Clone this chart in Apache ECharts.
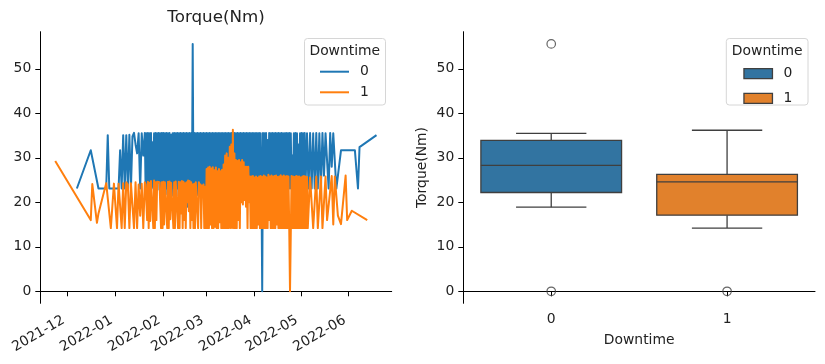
<!DOCTYPE html>
<html><head><meta charset="utf-8">
<script src="https://cdn.jsdelivr.net/npm/echarts@6/dist/echarts.min.js"></script>
<style>html,body{margin:0;padding:0;background:#fff}#c{width:825px;height:364px}</style>
</head><body><div id="c"></div>
<script>
// ---------- data ----------
const seriesNames = ['0', '1'];
// Torque readings for Downtime = 0  [time, Nm]
const torqueDowntime0 = [
['2021-12-07',23.1],['2021-12-16',31.7],['2021-12-21',23.1],['2021-12-26',23.1],['2021-12-27',35.1],['2021-12-28',23.1],
['2022-01-03',23.1],['2022-01-04',31.7],['2022-01-05',23.1],['2022-01-06',35.1],['2022-01-07',23.1],['2022-01-08',35.1],
['2022-01-09',23.1],['2022-01-10',35.2],['2022-01-11',23.1],['2022-01-12',34.8],['2022-01-13',35.6],['2022-01-14',33.0],
['2022-01-15',31.0],['2022-01-16',35.5],['2022-01-17',23.1],['2022-01-18',35.5],['2022-01-19',30.5],
['2022-01-20',35.6],['2022-01-20 12',23.1],['2022-01-21',35.5],['2022-01-21 12',22.8],['2022-01-22',35.6],['2022-01-22 12',23.1],
['2022-01-23',35.5],['2022-01-23 12',22.4],['2022-01-24',35.6],['2022-01-24 12',23.5],['2022-01-25',33.5],['2022-01-25 12',23.1],
['2022-01-26',35.5],['2022-01-26 12',22.8],['2022-01-27',35.6],['2022-01-27 12',23.1],['2022-01-28',35.5],['2022-01-28 12',24.5],
['2022-01-29',35.6],['2022-01-29 12',22.8],['2022-01-30',35.5],['2022-01-30 12',23.1],['2022-01-31',35.6],['2022-01-31 12',21.8],
['2022-02-01',35.6],['2022-02-01 12',23.1],['2022-02-02',35.5],['2022-02-02 12',21.8],['2022-02-03',35.6],['2022-02-03 12',23.1],
['2022-02-04',35.5],['2022-02-04 12',22.5],['2022-02-05',35.6],['2022-02-05 12',23.1],['2022-02-06',35.2],['2022-02-06 12',21.5],
['2022-02-07',35.5],['2022-02-07 12',23.1],['2022-02-08',35.6],['2022-02-08 12',22.7],['2022-02-09',35.5],['2022-02-09 12',21.5],
['2022-02-10',35.6],['2022-02-10 12',23.1],['2022-02-11',35.5],['2022-02-11 12',22.0],['2022-02-12',35.6],['2022-02-12 12',23.1],
['2022-02-13',35.5],['2022-02-13 12',21.2],['2022-02-14',35.6],['2022-02-14 12',20.4],['2022-02-15',35.5],['2022-02-15 12',21.0],
['2022-02-16',35.6],['2022-02-16 12',19.0],['2022-02-17',35.5],['2022-02-17 12',20.0],['2022-02-18',35.6],['2022-02-18 12',19.5],
['2022-02-19',35.5],['2022-02-19 12',21.0],['2022-02-20',55.6],['2022-02-20 12',22.0],['2022-02-21',35.6],['2022-02-21 12',21.6],
['2022-02-22',35.5],['2022-02-22 12',22.0],['2022-02-23',35.6],['2022-02-23 12',21.6],['2022-02-24',35.5],['2022-02-24 12',23.1],
['2022-02-25',35.6],['2022-02-25 12',21.6],['2022-02-26',35.5],['2022-02-26 12',22.0],['2022-02-27',35.6],['2022-02-27 12',21.6],
['2022-02-28',35.5],['2022-02-28 12',23.1],
['2022-03-01',35.6],['2022-03-01 12',21.6],['2022-03-02',35.5],['2022-03-02 12',22.0],['2022-03-03',35.6],['2022-03-03 12',21.6],
['2022-03-04',35.5],['2022-03-04 12',23.1],['2022-03-05',35.6],['2022-03-05 12',21.6],['2022-03-06',35.5],['2022-03-06 12',22.5],
['2022-03-07',35.6],['2022-03-07 12',21.6],['2022-03-08',35.5],['2022-03-08 12',23.1],['2022-03-09',35.6],['2022-03-09 12',22.0],
['2022-03-10',35.5],['2022-03-10 12',21.6],['2022-03-11',35.6],['2022-03-11 12',23.1],['2022-03-12',35.5],['2022-03-12 12',22.0],
['2022-03-13',35.6],['2022-03-13 12',21.6],['2022-03-14',35.5],['2022-03-14 12',23.1],['2022-03-15',35.6],['2022-03-15 12',22.5],
['2022-03-16',35.5],['2022-03-16 12',21.6],['2022-03-17',35.6],['2022-03-17 12',23.1],['2022-03-18',35.5],['2022-03-18 12',21.0],
['2022-03-19',35.6],['2022-03-19 12',20.7],['2022-03-20',35.5],['2022-03-20 12',21.0],['2022-03-21',35.6],['2022-03-21 12',20.9],
['2022-03-22',35.5],['2022-03-22 12',20.7],['2022-03-23',35.6],['2022-03-23 12',21.2],['2022-03-24',35.5],['2022-03-24 12',20.7],
['2022-03-25',35.6],['2022-03-25 12',20.9],['2022-03-26',35.5],['2022-03-26 12',21.0],['2022-03-27',35.6],['2022-03-27 12',20.7],
['2022-03-28',35.5],['2022-03-28 12',21.2],['2022-03-29',35.6],['2022-03-29 12',20.9],['2022-03-30',35.5],['2022-03-30 12',21.0],
['2022-03-31',35.6],['2022-03-31 12',20.7],
['2022-04-01',35.5],['2022-04-01 12',21.0],['2022-04-02',35.6],['2022-04-02 12',23.1],['2022-04-03',35.5],['2022-04-03 12',21.5],
['2022-04-04',35.6],['2022-04-04 12',23.1],['2022-04-05',35.5],['2022-04-05 12',25.0],['2022-04-06',0.0],['2022-04-06 12',35.6],
['2022-04-07',23.1],['2022-04-07 12',35.5],['2022-04-08',23.1],['2022-04-08 12',35.6],['2022-04-09',23.1],['2022-04-09 12',34.0],
['2022-04-10',23.1],['2022-04-10 12',35.6],['2022-04-11',23.1],['2022-04-11 12',35.5],['2022-04-12',23.1],['2022-04-12 12',35.6],
['2022-04-13',23.1],['2022-04-13 12',35.5],['2022-04-14',23.1],['2022-04-14 12',35.6],['2022-04-15',23.1],['2022-04-15 12',35.5],
['2022-04-16',23.1],['2022-04-16 12',35.6],['2022-04-17',23.1],['2022-04-17 12',35.5],['2022-04-18',23.1],['2022-04-18 12',35.6],
['2022-04-19',23.1],['2022-04-19 12',35.5],['2022-04-20',23.1],['2022-04-20 12',35.5],['2022-04-21',23.1],['2022-04-21 12',35.6],
['2022-04-22',23.1],['2022-04-22 12',35.5],['2022-04-23',23.1],['2022-04-23 12',35.6],['2022-04-24',23.1],['2022-04-24 12',35.5],
['2022-04-25',23.1],['2022-04-25 12',30.5],['2022-04-26',23.1],['2022-04-26 12',35.5],['2022-04-27',23.1],['2022-04-27 12',35.6],
['2022-04-28',23.1],['2022-04-28 12',35.5],['2022-04-29',23.1],['2022-04-29 12',33.0],['2022-04-30',23.1],['2022-04-30 12',35.5],
['2022-05-01',23.1],['2022-05-01 12',35.6],['2022-05-02',23.1],['2022-05-02 12',35.5],['2022-05-03',23.1],['2022-05-03 12',35.6],
['2022-05-04',23.1],
['2022-05-05',35.5],['2022-05-06',23.1],['2022-05-07',35.6],['2022-05-08',23.1],['2022-05-09',35.5],['2022-05-10',23.1],
['2022-05-11',35.6],['2022-05-12',23.1],
['2022-05-13',35.5],['2022-05-14',23.1],['2022-05-15',35.6],['2022-05-16',26.0],['2022-05-17',35.5],['2022-05-19',23.1],
['2022-05-20',35.6],['2022-05-21',28.0],['2022-05-22',35.5],['2022-05-24',23.1],['2022-05-27',31.7],['2022-06-05',31.7],
['2022-06-07',23.1],['2022-06-08',32.4],['2022-06-19',35.1]
];
// Torque readings for Downtime = 1  [time, Nm]
const torqueDowntime1 = [
['2021-11-23',29.3],['2021-12-16',16.0],['2021-12-17',24.1],['2021-12-20',15.4],['2021-12-21',17.5],['2021-12-26',24.3],
['2021-12-27',24.0],['2021-12-29',14.2],['2021-12-31',24.2],['2022-01-01',24.2],['2022-01-02',14.2],['2022-01-03',24.2],
['2022-01-05',14.2],['2022-01-06',24.3],['2022-01-07',14.2],['2022-01-08',24.5],['2022-01-09',24.0],['2022-01-10',14.2],
['2022-01-11',24.3],['2022-01-12',24.5],['2022-01-13',14.2],['2022-01-14',24.5],['2022-01-15',14.2],['2022-01-16',24.0],
['2022-01-17',17.0],['2022-01-18',24.2],['2022-01-19',14.2],
['2022-01-20',24.5],['2022-01-20 12',24.0],['2022-01-21',24.2],['2022-01-21 12',16.0],['2022-01-22',24.6],['2022-01-22 12',14.2],
['2022-01-23',24.4],['2022-01-23 12',15.8],['2022-01-24',24.8],['2022-01-24 12',24.5],['2022-01-25',24.6],['2022-01-25 12',14.2],
['2022-01-26',24.9],['2022-01-26 12',14.2],['2022-01-27',24.5],['2022-01-27 12',16.0],['2022-01-28',24.6],['2022-01-28 12',24.6],
['2022-01-29',24.8],['2022-01-29 12',24.5],['2022-01-30',24.6],['2022-01-30 12',14.2],['2022-01-31',24.5],['2022-01-31 12',14.2],
['2022-02-01',24.6],['2022-02-01 12',15.0],['2022-02-02',24.5],['2022-02-02 12',24.6],['2022-02-03',24.4],['2022-02-03 12',14.2],
['2022-02-04',24.6],['2022-02-04 12',14.2],['2022-02-05',24.7],['2022-02-05 12',16.2],['2022-02-06',24.4],['2022-02-06 12',24.5],
['2022-02-07',24.6],['2022-02-07 12',14.2],['2022-02-08',24.5],['2022-02-08 12',14.2],['2022-02-09',24.7],['2022-02-09 12',24.6],
['2022-02-10',24.4],['2022-02-10 12',14.2],['2022-02-11',24.6],['2022-02-11 12',14.2],['2022-02-12',24.5],['2022-02-12 12',17.5],
['2022-02-13',24.8],['2022-02-13 12',14.2],['2022-02-14',24.6],['2022-02-14 12',16.0],['2022-02-15',24.3],['2022-02-15 12',14.2],
['2022-02-16',24.5],['2022-02-16 12',20.0],['2022-02-17',24.9],['2022-02-17 12',18.0],['2022-02-18',24.8],['2022-02-18 12',14.2],
['2022-02-19',24.5],['2022-02-19 12',16.0],['2022-02-20',24.0],['2022-02-20 12',14.2],['2022-02-21',24.2],['2022-02-21 12',14.2],
['2022-02-22',24.5],['2022-02-22 12',24.2],['2022-02-23',24.6],['2022-02-23 12',14.2],['2022-02-24',24.5],['2022-02-24 12',23.5],
['2022-02-25',24.0],['2022-02-25 12',14.2],['2022-02-26',23.8],['2022-02-26 12',22.5],['2022-02-27',24.0],['2022-02-27 12',14.2],
['2022-02-28',23.5],['2022-02-28 12',14.2],
['2022-03-01',27.5],['2022-03-01 12',14.2],['2022-03-02',27.8],['2022-03-02 12',14.2],['2022-03-03',28.0],['2022-03-03 12',15.0],
['2022-03-04',27.6],['2022-03-04 12',14.2],['2022-03-05',27.9],['2022-03-05 12',14.2],['2022-03-06',27.2],['2022-03-06 12',14.5],
['2022-03-07',27.8],['2022-03-07 12',14.2],['2022-03-08',27.0],['2022-03-08 12',14.2],['2022-03-09',27.5],['2022-03-09 12',15.5],
['2022-03-10',27.0],['2022-03-10 12',14.2],['2022-03-11',27.3],['2022-03-11 12',14.2],['2022-03-12',28.5],['2022-03-12 12',14.2],
['2022-03-13',30.5],['2022-03-13 12',14.2],['2022-03-14',31.0],['2022-03-14 12',14.2],['2022-03-15',30.0],['2022-03-15 12',14.2],
['2022-03-16',32.5],['2022-03-16 12',14.2],['2022-03-17',33.0],['2022-03-17 12',14.2],['2022-03-18',36.3],['2022-03-18 12',14.2],
['2022-03-19',31.0],['2022-03-19 12',14.2],['2022-03-20',29.5],['2022-03-20 12',14.2],['2022-03-21',29.3],['2022-03-21 12',16.0],
['2022-03-22',29.5],['2022-03-22 12',14.2],['2022-03-23',29.0],['2022-03-23 12',20.0],['2022-03-24',29.5],['2022-03-24 12',19.5],
['2022-03-25',29.0],['2022-03-25 12',20.5],['2022-03-26',28.0],['2022-03-26 12',19.0],['2022-03-27',28.0],['2022-03-27 12',14.2],
['2022-03-28',28.0],['2022-03-28 12',20.0],['2022-03-29',25.8],['2022-03-29 12',14.2],['2022-03-30',25.8],['2022-03-30 12',14.2],
['2022-03-31',25.9],['2022-03-31 12',14.2],
['2022-04-01',25.6],['2022-04-01 12',14.2],['2022-04-02',25.8],['2022-04-02 12',14.2],['2022-04-03',25.5],['2022-04-03 12',15.0],
['2022-04-04',25.8],['2022-04-04 12',14.2],['2022-04-05',25.9],['2022-04-05 12',14.2],['2022-04-06',25.7],['2022-04-06 12',14.2],
['2022-04-07',26.0],['2022-04-07 12',14.2],['2022-04-08',25.8],['2022-04-08 12',14.2],['2022-04-09',25.6],['2022-04-09 12',14.2],
['2022-04-10',26.2],['2022-04-10 12',16.0],['2022-04-11',25.8],['2022-04-11 12',14.2],['2022-04-12',26.0],['2022-04-12 12',14.2],
['2022-04-13',25.8],['2022-04-13 12',14.2],['2022-04-14',25.9],['2022-04-14 12',14.2],['2022-04-15',26.0],['2022-04-15 12',15.0],
['2022-04-16',25.7],['2022-04-16 12',14.2],['2022-04-17',25.8],['2022-04-17 12',14.2],['2022-04-18',26.1],['2022-04-18 12',14.2],
['2022-04-19',25.8],['2022-04-19 12',14.2],['2022-04-20',26.0],['2022-04-20 12',14.2],['2022-04-21',25.8],['2022-04-21 12',14.2],
['2022-04-22',25.9],['2022-04-22 12',14.2],['2022-04-23',25.8],['2022-04-23 12',14.2],['2022-04-24',0.0],
['2022-04-25',25.9],['2022-04-25 12',14.2],['2022-04-26',25.8],['2022-04-26 12',14.2],['2022-04-27',25.7],['2022-04-27 12',14.2],
['2022-04-28',25.9],['2022-04-28 12',14.2],['2022-04-29',25.8],['2022-04-29 12',14.2],['2022-04-30',25.8],['2022-04-30 12',14.2],
['2022-05-01',25.6],['2022-05-01 12',14.2],['2022-05-02',25.8],['2022-05-02 12',14.2],['2022-05-03',25.9],['2022-05-03 12',14.2],
['2022-05-04',25.8],['2022-05-04 12',14.2],['2022-05-05',25.7],['2022-05-05 12',14.2],
['2022-05-07',25.6],['2022-05-08',25.8],['2022-05-09',14.2],['2022-05-11',25.8],['2022-05-12',14.2],['2022-05-14',25.8],
['2022-05-15',14.2],['2022-05-17',25.8],['2022-05-18',16.0],['2022-05-21',25.9],['2022-05-22',15.0],['2022-05-23',25.8],
['2022-05-25',17.0],['2022-05-27',15.1],['2022-05-30',26.0],['2022-05-31',16.0],['2022-06-03',18.1],['2022-06-13',16.0]
];
const monthTicks = ['2021-12-01','2022-01-01','2022-02-01','2022-03-01','2022-04-01','2022-05-01','2022-06-01'];
const yTicks = [0, 10, 20, 30, 40, 50];
const boxCategories = ['0', '1'];
// [low whisker, Q1, median, Q3, high whisker]
const boxStats0 = [18.9, 22.2, 28.3, 33.9, 35.5];
const boxStats1 = [14.2, 17.1, 24.6, 26.3, 36.2];
const outlierCats = [0, 0, 1];
const outlierVals = [55.6, 0.0, 0.0];

// ---------- helpers ----------
function toTs(s) {
  const parts = s.split(' ');
  const p = parts[0].split('-').map(Number);
  const h = parts.length > 1 ? Number(parts[1]) : 0;
  return new Date(p[0], p[1] - 1, p[2], h).getTime();
}
const FONT = 'DejaVu Sans';
const TXT = '#222222';
const EDGE = '#3f3f3f';
const yMin = -2.7, yMax = 58.35;
const lineColors = ['#1f77b4', '#ff7f0e'];
const boxColors = ['#3274a1', '#e1812c'];

function renderBox(params, api) {
  const cat = api.value(0);
  const vals = [api.value(1), api.value(2), api.value(3), api.value(4), api.value(5)];
  const ys = vals.map(v => api.coord([cat, v])[1]);
  const x = api.coord([cat, vals[0]])[0];
  const band = api.size([1, 0])[0];
  const bw = band * 0.8, cw = bw / 2;
  const color = boxColors[cat];
  const ls = { stroke: EDGE, lineWidth: 1.3 };
  return { type: 'group', children: [
    { type: 'line', shape: { x1: x, y1: ys[1], x2: x, y2: ys[0] }, style: ls },
    { type: 'line', shape: { x1: x, y1: ys[3], x2: x, y2: ys[4] }, style: ls },
    { type: 'line', shape: { x1: x - cw / 2, y1: ys[0], x2: x + cw / 2, y2: ys[0] }, style: ls },
    { type: 'line', shape: { x1: x - cw / 2, y1: ys[4], x2: x + cw / 2, y2: ys[4] }, style: ls },
    { type: 'rect', shape: { x: x - bw / 2, y: ys[3], width: bw, height: ys[1] - ys[3] }, style: { fill: color, stroke: EDGE, lineWidth: 1.3 } },
    { type: 'line', shape: { x1: x - bw / 2, y1: ys[2], x2: x + bw / 2, y2: ys[2] }, style: ls }
  ]};
}

const axisLineStyle = { show: true, lineStyle: { color: '#000', width: 1 } };
const tickStyle = { show: true, length: 5, lineStyle: { color: '#000', width: 1 } };
const labelStyle = { color: TXT, fontFamily: FONT, fontSize: 13.9 };
function fmtMonth(v) { const d = new Date(v); return d.getFullYear() + '-' + String(d.getMonth() + 1).padStart(2, '0'); }
const lineIcon = 'path://M0,0 H29 V2 H0 Z';

const option = {
  animation: false,
  backgroundColor: '#fff',
  textStyle: { fontFamily: FONT },
  grid: [
    { left: 40.3, top: 31.7, width: 351.4, height: 271.6, containLabel: false },
    { left: 463.3, top: 31.7, width: 351.7, height: 271.6, containLabel: false }
  ],
  xAxis: [
    { type: 'value', gridIndex: 0, min: toTs('2021-11-13 08'), max: toTs('2022-06-28 20'), scale: true,
      axisLine: axisLineStyle, splitLine: { show: false },
      axisTick: Object.assign({}, tickStyle, { customValues: monthTicks.map(toTs) }),
      axisLabel: Object.assign({}, labelStyle, { rotate: 30, margin: 13.7, padding: [0, 4.6, 0, 0], customValues: monthTicks.map(toTs), formatter: fmtMonth })
    },
    { type: 'category', gridIndex: 1, data: boxCategories, boundaryGap: true,
      axisLine: axisLineStyle, splitLine: { show: false },
      axisTick: Object.assign({}, tickStyle, { alignWithLabel: true }),
      axisLabel: Object.assign({}, labelStyle, { margin: 9 }),
      name: 'Downtime', nameLocation: 'middle', nameGap: 30,
      nameTextStyle: { color: TXT, fontFamily: FONT, fontSize: 13.9 }
    }
  ],
  yAxis: [
    { type: 'value', gridIndex: 0, min: yMin, max: yMax,
      axisLine: axisLineStyle, splitLine: { show: false },
      axisTick: Object.assign({}, tickStyle, { customValues: yTicks }),
      axisLabel: Object.assign({}, labelStyle, { margin: 9, customValues: yTicks })
    },
    { type: 'value', gridIndex: 1, min: yMin, max: yMax,
      axisLine: axisLineStyle, splitLine: { show: false },
      axisTick: Object.assign({}, tickStyle, { customValues: yTicks }),
      axisLabel: Object.assign({}, labelStyle, { margin: 9, customValues: yTicks }),
      name: 'Torque(Nm)', nameLocation: 'middle', nameGap: 34,
      nameTextStyle: { color: TXT, fontFamily: FONT, fontSize: 13.9 }
    }
  ],
  legend: [
    { orient: 'vertical', left: 320, top: 64.7, padding: 0, itemWidth: 29, itemHeight: 14, itemGap: 6.6,
      selectedMode: false, symbolKeepAspect: true,
      data: seriesNames.map((n, i) => ({ name: n, icon: lineIcon, itemStyle: { color: lineColors[i] } })),
      textStyle: { color: TXT, fontFamily: FONT, fontSize: 13.9, padding: [0, 0, 0, 6] } },
    { orient: 'vertical', left: 743.3, top: 66.7, padding: 0, itemWidth: 28.5, itemHeight: 10, itemGap: 10.6,
      selectedMode: false,
      data: seriesNames.map((n, i) => ({ name: 'box' + n, icon: 'rect', itemStyle: { color: boxColors[i], borderColor: EDGE, borderWidth: 1.3 } })),
      formatter: n => n.replace('box', ''),
      textStyle: { color: TXT, fontFamily: FONT, fontSize: 13.9, padding: [0, 0, 0, 6] } }
  ],
  graphic: [
    { type: 'text', x: 216, y: 17.5, z: 10, style: { text: 'Torque(Nm)', fill: TXT, font: '16.7px "DejaVu Sans"', textAlign: 'center', textVerticalAlign: 'middle' } },
    { type: 'rect', z: 0, shape: { x: 304.5, y: 38.5, width: 81, height: 66.5, r: 3 }, style: { fill: 'rgba(255,255,255,0.8)', stroke: '#d6d6d6', lineWidth: 1 } },
    { type: 'text', x: 344.8, y: 51.5, z: 10, style: { text: 'Downtime', fill: TXT, font: '13.9px "DejaVu Sans"', textAlign: 'center', textVerticalAlign: 'middle' } },
    { type: 'rect', z: 0, shape: { x: 726.3, y: 38.5, width: 81.7, height: 66.5, r: 3 }, style: { fill: 'rgba(255,255,255,0.8)', stroke: '#d6d6d6', lineWidth: 1 } },
    { type: 'text', x: 767.2, y: 51.5, z: 10, style: { text: 'Downtime', fill: TXT, font: '13.9px "DejaVu Sans"', textAlign: 'center', textVerticalAlign: 'middle' } }
  ],
  series: [
    { name: seriesNames[0], type: 'line', xAxisIndex: 0, yAxisIndex: 0, symbol: 'none', z: 2,
      color: lineColors[0], lineStyle: { width: 2, color: lineColors[0], join: 'round' },
      data: torqueDowntime0.map(d => [toTs(d[0]), d[1]]) },
    { name: seriesNames[1], type: 'line', xAxisIndex: 0, yAxisIndex: 0, symbol: 'none', z: 3,
      color: lineColors[1], lineStyle: { width: 2, color: lineColors[1], join: 'round' },
      data: torqueDowntime1.map(d => [toTs(d[0]), d[1]]) },
    { name: 'box0', type: 'custom', xAxisIndex: 1, yAxisIndex: 1, renderItem: renderBox, z: 2,
      itemStyle: { color: boxColors[0] }, encode: { x: 0, y: [1, 2, 3, 4, 5] },
      data: [[0].concat(boxStats0)] },
    { name: 'box1', type: 'custom', xAxisIndex: 1, yAxisIndex: 1, renderItem: renderBox, z: 2,
      itemStyle: { color: boxColors[1] }, encode: { x: 0, y: [1, 2, 3, 4, 5] },
      data: [[1].concat(boxStats1)] },
    { name: 'outliers', type: 'scatter', xAxisIndex: 1, yAxisIndex: 1, z: 4,
      symbol: 'circle', symbolSize: 8.5,
      itemStyle: { color: 'rgba(255,255,255,0)', borderColor: EDGE, borderWidth: 1.2 },
      data: outlierCats.map((c, i) => [c, outlierVals[i]]) }
  ]
};
const chart = echarts.init(document.getElementById('c'), null, { renderer: 'canvas' });
chart.setOption(option);
</script>
</body></html>
